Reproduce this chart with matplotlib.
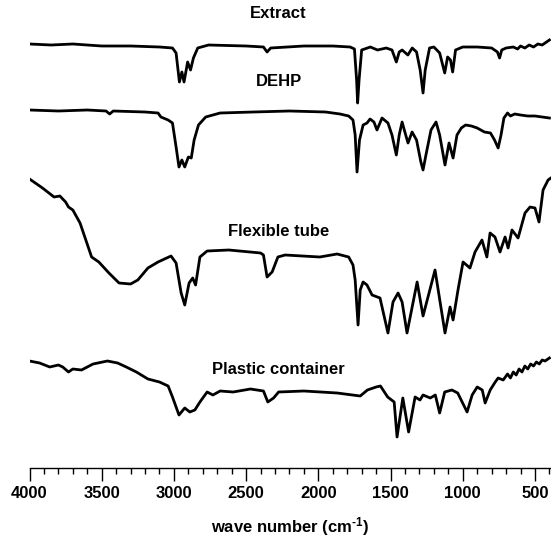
import matplotlib
matplotlib.use("Agg")
import matplotlib.pyplot as plt
from matplotlib.ticker import MultipleLocator

plt.rcParams['font.family'] = ['Liberation Sans', 'DejaVu Sans']
plt.rcParams['font.weight'] = 'bold'
plt.rcParams['mathtext.fontset'] = 'custom'
plt.rcParams['mathtext.rm'] = 'Liberation Sans:bold'
plt.rcParams['mathtext.bf'] = 'Liberation Sans:bold'
plt.rcParams['mathtext.default'] = 'bf'

# ---- spectra (wavenumber in cm-1, transmittance in a.u.) ----
extract_wn = [4000, 3850, 3700, 3500, 3300, 3100, 3010, 2985, 2962, 2945, 2930, 2905,
              2885, 2865, 2835, 2760, 2500, 2380, 2355, 2330, 2100, 1900, 1780, 1750,
              1735, 1728, 1718, 1700, 1640, 1590, 1530, 1490, 1460, 1440, 1420, 1380,
              1350, 1320, 1295, 1275, 1260, 1230, 1200, 1160, 1125, 1105, 1085, 1070,
              1050, 1000, 900, 800, 760, 745, 730, 700, 650, 620, 600, 570, 540, 510,
              480, 450, 420, 400]
extract_t = [64, 63, 64, 62, 62, 61, 60, 55, 26, 36, 26, 46,
             38, 50, 60, 63, 62, 61, 56, 60, 62, 62, 61, 59,
             28, 5, 28, 58, 61, 58, 60, 58, 46, 56, 58, 53,
             60, 56, 38, 15, 38, 60, 61, 55, 35, 51, 48, 36,
             58, 61, 61, 60, 56, 50, 58, 60, 61, 59, 62, 60, 63, 61,
             64, 63, 66, 68]

dehp_wn = [4000, 3800, 3600, 3470, 3445, 3420, 3200, 3110, 3090, 3040, 3010, 2985,
           2965, 2945, 2925, 2900, 2880, 2860, 2830, 2780, 2680, 2450, 2200, 1950,
           1850, 1790, 1760, 1745, 1732, 1715, 1690, 1663, 1642, 1615, 1594, 1559,
           1518, 1490, 1460, 1440, 1420, 1395, 1379, 1351, 1320, 1290, 1275, 1255,
           1220, 1185, 1160, 1123, 1095, 1067, 1040, 1010, 980, 940, 900, 850, 808,
           780, 755, 735, 715, 690, 670, 640, 600, 550, 500, 450, 400]
dehp_t = [68, 67, 68, 67, 64, 67, 66, 65, 61, 58, 55, 31,
          11, 18, 11, 21, 20, 38, 53, 61, 65, 66, 67, 66,
          64, 62, 58, 43, 6, 38, 53, 55, 59, 56, 48, 60,
          55, 43, 23, 43, 56, 43, 35, 46, 38, 16, 8, 23,
          48, 56, 43, 13, 35, 20, 43, 50, 53, 52, 50, 46, 45,
          38, 30, 43, 60, 65, 62, 64, 63, 62, 62, 61, 60]

tube_wn = [4000, 3910, 3830, 3790, 3750, 3730, 3700, 3650, 3610, 3570, 3520, 3450,
           3380, 3300, 3250, 3180, 3110, 3020, 2985, 2950, 2925, 2895, 2870, 2850,
           2820, 2770, 2620, 2400, 2380, 2355, 2320, 2280, 2230, 1990, 1870, 1790,
           1760, 1745, 1725, 1710, 1690, 1663, 1628, 1573, 1518, 1483, 1448, 1420,
           1386, 1316, 1275, 1192, 1123, 1088, 1067, 1033, 998, 950, 915, 867, 833,
           811, 777, 742, 707, 686, 659, 617, 569, 534, 500, 472, 444, 409, 390]
tube_t = [169, 160, 151, 152, 146, 141, 138, 125, 108, 91, 86, 75,
          65, 64, 68, 80, 86, 92, 85, 55, 43, 65, 70, 63,
          91, 97, 98, 95, 93, 71, 76, 91, 93, 91, 94, 91,
          83, 68, 23, 58, 66, 63, 53, 50, 15, 46, 55, 46,
          15, 66, 32, 78, 15, 41, 28, 58, 86, 80, 96, 108, 91,
          115, 111, 96, 111, 100, 118, 110, 135, 141, 140, 126, 158, 168, 170]

plastic_wn = [4000, 3930, 3860, 3800, 3770, 3730, 3700, 3640, 3560, 3460, 3390, 3330,
              3260, 3180, 3100, 3040, 3010, 2965, 2925, 2890, 2855, 2820, 2770, 2730,
              2680, 2590, 2470, 2380, 2350, 2310, 2275, 2100, 1870, 1710, 1660, 1600,
              1570, 1520, 1475, 1455, 1415, 1375, 1330, 1296, 1275, 1225, 1190, 1160,
              1125, 1075, 1035, 970, 935, 900, 865, 845, 810, 775, 755, 720, 690, 670,
              650, 630, 610, 590, 570, 550, 530, 510, 490, 470, 450, 430, 400]
plastic_t = [87, 85, 81, 83, 81, 76, 79, 78, 84, 87, 85, 81,
             76, 69, 66, 62, 51, 33, 40, 36, 38, 46, 56, 53,
             57, 56, 59, 57, 46, 50, 56, 57, 55, 52, 58, 61,
             62, 51, 46, 11, 50, 16, 51, 48, 53, 50, 53, 35,
             56, 58, 55, 36, 53, 61, 58, 45, 58, 66, 70, 68, 74, 70,
             76, 73, 79, 76, 82, 79, 84, 82, 86, 84, 88, 87, 90]

spectra = [("Extract", extract_wn, extract_t),
           ("DEHP", dehp_wn, dehp_t),
           ("Flexible tube", tube_wn, tube_t),
           ("Plastic container", plastic_wn, plastic_t)]
offsets = [360, 290, 120, 20]
label_y = [454, 386, 236, 99]

fig = plt.figure(figsize=(5.51, 5.44), dpi=100)
ax = fig.add_axes([29.5 / 551, 76 / 544, 521.5 / 551, 468 / 544])

for (name, wn, t), off, ly in zip(spectra, offsets, label_y):
    ax.plot(wn, [v + off for v in t], color="black", lw=2.0,
            solid_joinstyle="round")
    ax.text(2275, ly, name, ha="center", va="center", fontsize=12,
            fontweight="bold")

ax.set_xlim(4000, 389)
ax.set_ylim(0, 468)
ax.xaxis.set_major_locator(MultipleLocator(500))
ax.xaxis.set_minor_locator(MultipleLocator(100))
ax.tick_params(axis="x", which="major", length=9, width=1, labelsize=12, pad=4)
ax.tick_params(axis="x", which="minor", length=4.5, width=1)
ax.set_yticks([])
for s in ["top", "left", "right"]:
    ax.spines[s].set_visible(False)
ax.spines["bottom"].set_linewidth(1)
for lab in ax.get_xticklabels():
    lab.set_fontweight("bold")
ax.set_xlabel(r"wave number (cm$^{\text{-}1}$)", fontsize=12, fontweight="bold",
              labelpad=10)

fig.savefig("out.png", dpi=100)
